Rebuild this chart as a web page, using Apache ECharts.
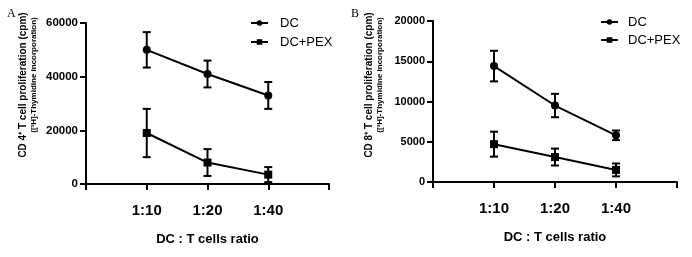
<!DOCTYPE html>
<html><head><meta charset="utf-8">
<script src="https://cdn.jsdelivr.net/npm/echarts@6/dist/echarts.min.js"></script>
<style>html,body{margin:0;padding:0;background:#fff}#c{width:692px;height:257px}</style>
</head><body><div id="c"></div>
<script>
// ---- data ----
const ratios = ['1:10', '1:20', '1:40'];
const seriesNames = ['DC', 'DC+PEX'];
// Panel A: CD4+ T cells
const cd4_DC = [50000, 41000, 33000];
const cd4_DC_err = [6600, 5000, 5000];
const cd4_PEX = [19000, 8000, 3500];
const cd4_PEX_err = [9000, 5000, 2800];
// Panel B: CD8+ T cells
const cd8_DC = [14400, 9500, 5800];
const cd8_DC_err = [1900, 1450, 600];
const cd8_PEX = [4700, 3100, 1500];
const cd8_PEX_err = [1550, 1050, 800];
const yTicksA = [0, 20000, 40000, 60000];
const yTicksB = [0, 5000, 10000, 15000, 20000];

const FONT = 'Liberation Sans, Arial, sans-serif';
const chart = echarts.init(document.getElementById('c'), null, {renderer: 'canvas'});

function pts(vals) { return vals.map((v, i) => [i + 1, v]); }
function errs(vals, e) { return vals.map((v, i) => [i + 1, v - e[i], v + e[i]]); }

function errSeries(vals, e, gi) {
  return {
    type: 'custom', xAxisIndex: gi, yAxisIndex: gi, silent: true, z: 1,
    data: errs(vals, e),
    renderItem: function (params, api) {
      const x = api.value(0);
      const lo = api.coord([x, api.value(1)]);
      const hi = api.coord([x, api.value(2)]);
      const w = 4;
      const st = {stroke: '#000', lineWidth: 2};
      return {type: 'group', children: [
        {type: 'line', shape: {x1: lo[0], y1: lo[1], x2: hi[0], y2: hi[1]}, style: st},
        {type: 'line', shape: {x1: lo[0] - w, y1: lo[1], x2: lo[0] + w, y2: lo[1]}, style: st},
        {type: 'line', shape: {x1: hi[0] - w, y1: hi[1], x2: hi[0] + w, y2: hi[1]}, style: st}
      ]};
    }
  };
}
function lineSeries(name, vals, gi, symbol) {
  return {
    name: name, type: 'line', xAxisIndex: gi, yAxisIndex: gi, z: 3,
    data: pts(vals), symbol: symbol, symbolSize: 8, showSymbol: true,
    itemStyle: {color: '#000'}, lineStyle: {color: '#000', width: 2},
    animation: false
  };
}
function xAxisCfg(gi) {
  return {
    type: 'value', gridIndex: gi, min: 0, max: 4, interval: 1,
    axisLine: {show: true, lineStyle: {color: '#000', width: 2}},
    axisTick: {show: true, length: 6, lineStyle: {color: '#000', width: 2}},
    splitLine: {show: false},
    axisLabel: {margin: 19, color: '#000', fontFamily: FONT, fontWeight: 'bold', fontSize: 15,
      formatter: v => ratios[v - 1] || ''},
    name: 'DC : T cells ratio', nameLocation: 'middle', nameGap: 49,
    nameTextStyle: {color: '#000', fontFamily: FONT, fontWeight: 'bold', fontSize: 13}
  };
}
function yAxisCfg(gi, ticks, fs) {
  return {
    type: 'value', gridIndex: gi, min: ticks[0], max: ticks[ticks.length - 1],
    interval: ticks[1] - ticks[0],
    axisLine: {show: true, lineStyle: {color: '#000', width: 2}},
    axisTick: {show: true, length: 6, lineStyle: {color: '#000', width: 2}},
    splitLine: {show: false},
    axisLabel: {margin: 8, color: '#000', fontFamily: FONT, fontWeight: 'bold', fontSize: fs,
      formatter: v => String(v)}
  };
}
function yTitle(x1, x2, y1, y2, main) {
  return [
    {type: 'text', x: x1, y: y1, rotation: Math.PI / 2,
      style: {text: main, font: 'bold 10px ' + FONT, fill: '#000', textAlign: 'center', textVerticalAlign: 'middle'}},
    {type: 'text', x: x2, y: y2, rotation: Math.PI / 2,
      style: {text: '([³H]-Thymidine incorporation)', font: 'bold 8px ' + FONT, fill: '#000', textAlign: 'center', textVerticalAlign: 'middle'}}
  ];
}

const legendCfg = (left, top, gap, pad) => ({
  orient: 'vertical', left: left, top: top, data: seriesNames, padding: 0,
  itemWidth: 17, itemHeight: 7, itemGap: gap, selectedMode: false,
  textStyle: {color: '#000', fontFamily: FONT, fontSize: 13, lineHeight: 14, padding: [0, 0, 0, pad]}
});

chart.setOption({
  animation: false,
  backgroundColor: '#fff',
  title: [
    {text: 'A', left: 2, top: 3, textStyle: {fontFamily: 'Liberation Serif, Times New Roman, serif', fontWeight: 'normal', fontSize: 12, color: '#000'}},
    {text: 'B', left: 346, top: 3, textStyle: {fontFamily: 'Liberation Serif, Times New Roman, serif', fontWeight: 'normal', fontSize: 12, color: '#000'}}
  ],
  legend: [legendCfg(250, 16, 5, 7), legendCfg(600, 15, 4, 5)],
  grid: [
    {left: 86, width: 243, top: 23, height: 161},
    {left: 433, width: 244, top: 21, height: 161}
  ],
  xAxis: [xAxisCfg(0), xAxisCfg(1)],
  yAxis: [yAxisCfg(0, yTicksA, 11.5), yAxisCfg(1, yTicksB, 11)],
  graphic: [].concat(
    yTitle(23, 34, 85, 75, 'CD 4⁺ T cell proliferation (cpm)'),
    yTitle(369, 380, 85, 75, 'CD 8⁺ T cell proliferation (cpm)')
  ),
  series: [
    errSeries(cd4_DC, cd4_DC_err, 0),
    errSeries(cd4_PEX, cd4_PEX_err, 0),
    lineSeries(seriesNames[0], cd4_DC, 0, 'circle'),
    lineSeries(seriesNames[1], cd4_PEX, 0, 'rect'),
    errSeries(cd8_DC, cd8_DC_err, 1),
    errSeries(cd8_PEX, cd8_PEX_err, 1),
    lineSeries(seriesNames[0], cd8_DC, 1, 'circle'),
    lineSeries(seriesNames[1], cd8_PEX, 1, 'rect')
  ]
});
</script></body></html>
